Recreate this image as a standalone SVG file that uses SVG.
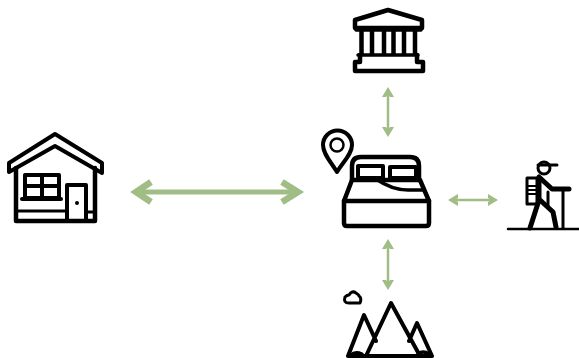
<svg xmlns="http://www.w3.org/2000/svg" width="579" height="358" viewBox="0 0 579 358">
<style>
.k{fill:none;stroke:#000;stroke-linejoin:round;stroke-linecap:round}
.a{fill:none;stroke:#a0bd85;stroke-width:2.500}
.h{fill:#a0bd85}
</style>
<rect width="579" height="358" fill="#fff"/>
<g id="connectors">
<path d="M140 192H294" fill="none" stroke="#a0bd85" stroke-width="5"/>
<path d="M151 182L136 192L151 202M282 182L298 192L282 202" fill="none" stroke="#a0bd85" stroke-width="6.500" stroke-linejoin="miter"/>
<path class="a" d="M388 92V132"/>
<path class="h" d="M388 87L394 97H390L388 94L386 97H382ZM388 137L394 127H390L388 130L386 127H382Z"/>
<path class="a" d="M454 200H492"/>
<path class="h" d="M448 200L458 194V198L455 200L458 202V206ZM498 200L488 194V198L491 200L488 202V206Z"/>
<path class="a" d="M388 244V285"/>
<path class="h" d="M388 239L394 249H390L388 246L386 249H382ZM388 290L394 280H390L388 283L386 280H382Z"/>
</g>
<g id="house" class="k">
<path d="M9 172V163L55 134L102 163V173L55 146Z" stroke-width="4"/>
<path d="M16 168V221H95V168" stroke-width="4.500"/>
<path d="M25 175H59V198H25ZM25 186H59M42 175V198" stroke-width="4"/>
<path d="M22 199H61" stroke-width="4"/>
<path d="M67 221V185H86V221" stroke-width="4"/>
<path d="M16 211H67M86 212H95" stroke-width="3"/>
<circle cx="77" cy="203" r="2" fill="#000" stroke="none"/>
</g>
<g id="bed" class="k">
<path d="M352 180V166Q352 157 361 157H410Q419 157 419 166V180" stroke-width="4.500"/>
<path d="M358 178V166H383V178ZM390 178V167H416V178Z" stroke-width="4"/>
<path d="M352 180H420L429 201V223Q429 226 426 226H347Q344 226 344 223V201Z" stroke-width="4.500"/>
<path d="M344 201H429" stroke-width="4.500"/>
<path d="M376 179Q392 190 408 190H424" stroke-width="3.500"/>
</g>
<g id="pin" class="k">
<path d="M337 172C331 162 323 154 323 145A14.500 14.500 0 0 1 352 145C352 154 343 162 337 172Z" stroke-width="4"/>
<circle cx="337" cy="145" r="6.500" stroke-width="2.500"/>
</g>
<g id="bank" class="k">
<path d="M355 28V20L388 10L422 20V28Z" stroke-width="4.500"/>
<path d="M356 30H421" stroke-width="3.500"/>
<path d="M361.500 31V55M372 31V55M384 31V55M393.500 31V55M404 31V55M415 31V55" stroke-width="4.500" stroke-linecap="butt"/>
<path d="M358 55H418" stroke-width="3.500"/>
<path d="M360 55V62H355V71H423V62H417V55" stroke-width="4.500"/>
</g>
<g id="hiker" class="k">
<path d="M508 229H579" stroke-width="2.500"/>
<circle cx="544" cy="168" r="6" stroke-width="3"/>
<path d="M538 165H557" stroke-width="3"/>
<path d="M527 178H537V204H527Z" stroke-width="3"/>
<path d="M527 186H536M527 190H536M527 194H536" stroke-width="2"/>
<path d="M539 177L552 189H569" stroke-width="5"/>
<path d="M539 178V200L530 228M540 200L553 212L556 227" stroke-width="5"/>
<path d="M548 192V206M563 189V228" stroke-width="3"/>
</g>
<g id="mountains" class="k">
<path d="M348 356L364 315L376 341M366 356L391 303L420 356M409 341L417 323L432 356M348 356H432" stroke-width="4"/>
<path d="M351 355Q355 351 362 354M418 354Q423 350 429 354" stroke-width="3.500"/>
<path d="M349 303Q343 303 345 297Q347 295 349 295Q352 290 356 293Q359 295 359 296Q362 298 360 303Z" stroke-width="3"/>
</g>
</svg>
